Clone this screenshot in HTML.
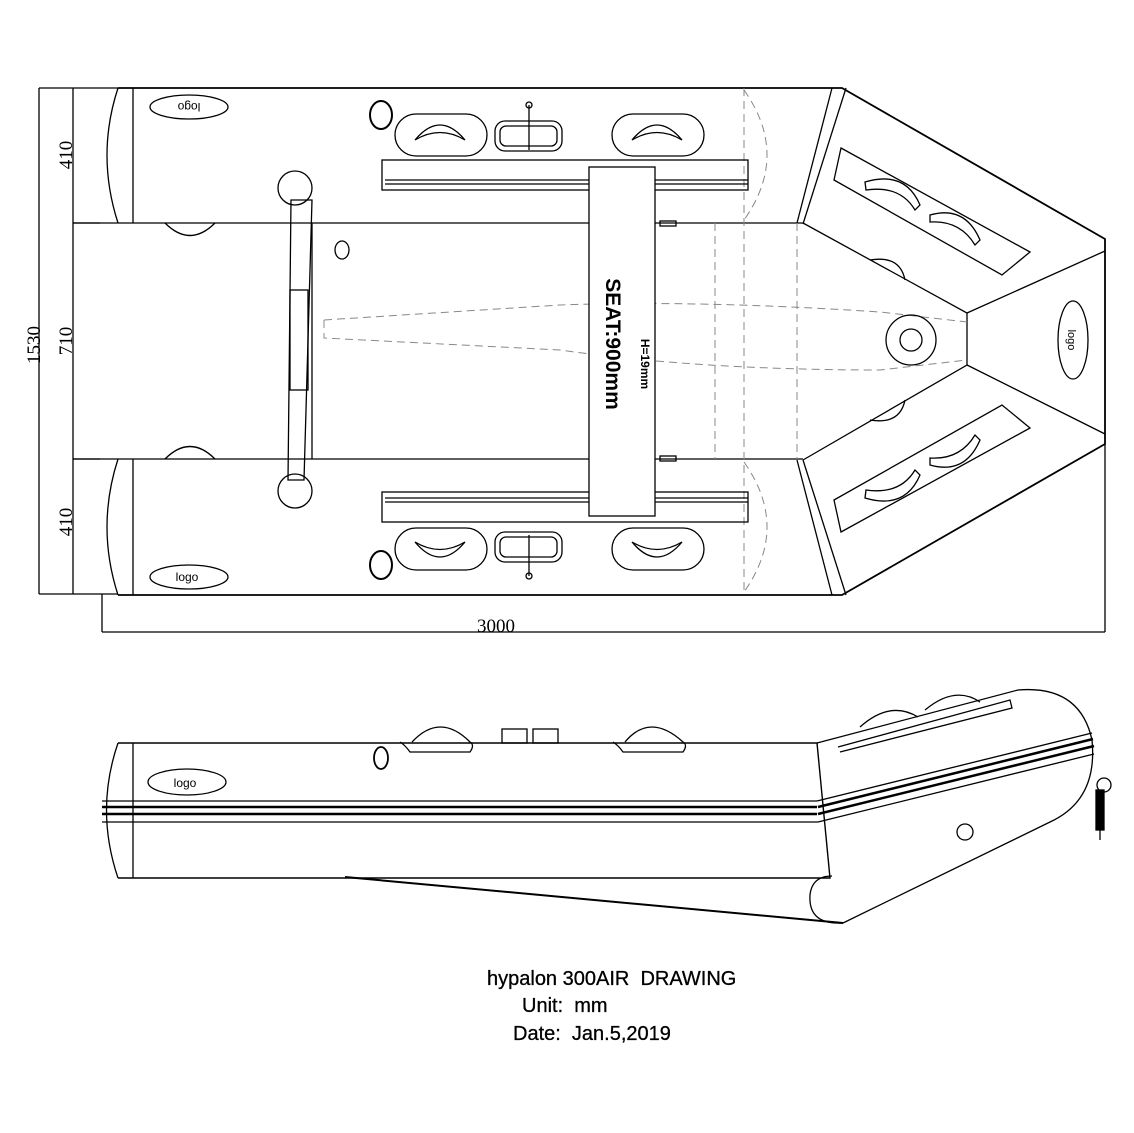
<!DOCTYPE html>
<html><head><meta charset="utf-8"><style>
html,body{margin:0;padding:0;background:#fff;}
svg{display:block;}
text{font-family:"Liberation Sans",Arial,sans-serif;fill:#000;white-space:pre;}
</style></head><body>
<svg width="1134" height="1133" viewBox="0 0 1134 1133" xmlns="http://www.w3.org/2000/svg" fill="none" stroke="#000" stroke-width="1.3">
<rect width="1134" height="1133" fill="#fff" stroke="none"/>
<line x1="39" y1="88" x2="39" y2="594"/>
<line x1="39" y1="88" x2="118" y2="88"/>
<line x1="39" y1="594" x2="118" y2="594"/>
<line x1="73" y1="88" x2="73" y2="594"/>
<line x1="73" y1="223" x2="100" y2="223"/>
<line x1="73" y1="459" x2="100" y2="459"/>
<line x1="102" y1="594" x2="102" y2="632"/>
<line x1="102" y1="632" x2="1105" y2="632"/>
<line x1="1105" y1="444" x2="1105" y2="632"/>
<g stroke="none" font-size="19">
<text transform="translate(72,155) rotate(-90)" text-anchor="middle" style="font-family:'Liberation Serif',serif">410</text>
<text transform="translate(72,341) rotate(-90)" text-anchor="middle" style="font-family:'Liberation Serif',serif">710</text>
<text transform="translate(72,522) rotate(-90)" text-anchor="middle" style="font-family:'Liberation Serif',serif">410</text>
<text transform="translate(40,345) rotate(-90)" text-anchor="middle" style="font-family:'Liberation Serif',serif">1530</text>
<text x="496" y="632" text-anchor="middle" style="font-family:'Liberation Serif',serif">3000</text>
</g>
<path d="M118 88 L842 88 L1105 239 L1105 444 L842 595 L118 595" stroke-width="1.8"/>
<path d="M118 88 Q96 155 118 223"/>
<path d="M118 459 Q96 527 118 595"/>
<line x1="133" y1="88" x2="133" y2="223"/>
<line x1="133" y1="459" x2="133" y2="595"/>
<line x1="73" y1="223" x2="803" y2="223"/>
<line x1="73" y1="459" x2="803" y2="459"/>
<line x1="312" y1="223" x2="312" y2="459"/>
<ellipse cx="342" cy="250" rx="7" ry="9"/>
<path d="M803 223 L967 313 L967 365 L803 460"/>
<line x1="967" y1="313" x2="1105" y2="251"/>
<line x1="967" y1="365" x2="1105" y2="434"/>
<line x1="832" y1="88" x2="797" y2="223"/>
<line x1="846" y1="88" x2="803" y2="224"/>
<line x1="797" y1="460" x2="832" y2="595"/>
<line x1="803" y1="460" x2="846" y2="595"/>
<g stroke="#888" stroke-dasharray="8,5" stroke-width="1">
<line x1="744" y1="88" x2="744" y2="595"/>
<line x1="715" y1="223" x2="715" y2="459"/>
<line x1="797" y1="223" x2="797" y2="459"/>
<path d="M744 90 Q790 155 744 220"/>
<path d="M744 462 Q790 527 744 592"/>
<path d="M324 320 L324 338 L560 350 Q700 370 880 370 L967 360"/>
<path d="M324 320 L560 305 Q700 300 880 312 L967 322"/>
</g>
<circle cx="911" cy="340" r="25"/>
<circle cx="911" cy="340" r="11"/>
<ellipse cx="1073" cy="340" rx="15" ry="39"/>
<text transform="translate(1068,340) rotate(90)" text-anchor="middle" font-size="11" stroke="none">logo</text>
<path d="M841 148 L1030 252 L1002 275 L834 180 Z"/>
<path d="M841 532 L1030 428 L1002 405 L834 500 Z"/>
<path d="M865 182 Q905 170 920 205 L915 210 Q900 185 866 190 Z"/>
<path d="M930 215 Q965 205 980 240 L975 245 Q960 220 930 222 Z"/>
<path d="M865 498 Q905 510 920 475 L915 470 Q900 495 866 490 Z"/>
<path d="M930 465 Q965 475 980 440 L975 435 Q960 460 930 458 Z"/>
<path d="M870 260 Q900 255 905 280"/>
<path d="M870 420 Q900 425 905 400"/>
<ellipse cx="189" cy="107" rx="39" ry="12"/>
<text transform="translate(189,103) rotate(180)" text-anchor="middle" font-size="12" stroke="none">logo</text>
<ellipse cx="189" cy="577" rx="39" ry="12"/>
<text x="187" y="581" text-anchor="middle" font-size="12" stroke="none">logo</text>
<path d="M165 223 Q190 248 215 223"/>
<path d="M165 459 Q190 434 215 459"/>
<path d="M291 200 L288 480 L304 480 L312 200 Z"/>
<circle cx="295" cy="188" r="17"/>
<circle cx="295" cy="491" r="17"/>
<rect x="290" y="290" width="18" height="100"/>
<rect x="382" y="160" width="366" height="30"/>
<line x1="385" y1="180" x2="748" y2="180"/>
<line x1="385" y1="184" x2="748" y2="184"/>
<rect x="382" y="492" width="366" height="30"/>
<line x1="385" y1="498" x2="748" y2="498"/>
<line x1="385" y1="502" x2="748" y2="502"/>
<rect x="589" y="167" width="66" height="349" fill="#fff"/>
<rect x="660" y="221" width="16" height="5"/>
<rect x="660" y="456" width="16" height="5"/>
<g stroke="none" font-weight="bold">
<text transform="translate(606,344) rotate(90)" text-anchor="middle" font-size="21">SEAT:900mm</text>
<text transform="translate(641,364) rotate(90)" text-anchor="middle" font-size="12">H=19mm</text>
</g>
<rect x="395" y="114" width="92" height="42" rx="21"/>
<path d="M415 140 Q440 110 465 140 Q440 125 415 140 Z"/>
<rect x="612" y="114" width="92" height="42" rx="21"/>
<path d="M632 140 Q657 110 682 140 Q657 125 632 140 Z"/>
<rect x="395" y="528" width="92" height="42" rx="21"/>
<path d="M415 542 Q440 572 465 542 Q440 557 415 542 Z"/>
<rect x="612" y="528" width="92" height="42" rx="21"/>
<path d="M632 542 Q657 572 682 542 Q657 557 632 542 Z"/>
<rect x="495" y="121" width="67" height="30" rx="10"/>
<rect x="500" y="126" width="57" height="20" rx="6"/>
<line x1="529" y1="105" x2="529" y2="150"/>
<circle cx="529" cy="105" r="3"/>
<rect x="495" y="532" width="67" height="30" rx="10"/>
<rect x="500" y="537" width="57" height="20" rx="6"/>
<line x1="529" y1="535" x2="529" y2="576"/>
<circle cx="529" cy="576" r="3"/>
<ellipse cx="381" cy="115" rx="11" ry="14" stroke-width="2"/>
<ellipse cx="381" cy="565" rx="11" ry="14" stroke-width="2"/>
<path d="M118 743 L817 743 L830 878 L118 878" stroke-width="1.4"/>
<path d="M118 743 Q95 810 118 878"/>
<line x1="133" y1="743" x2="133" y2="878"/>
<line x1="102" y1="801" x2="817" y2="801"/>
<line x1="102" y1="807" x2="817" y2="807" stroke-width="2.5"/>
<line x1="102" y1="814" x2="817" y2="814" stroke-width="2.5"/>
<line x1="102" y1="822" x2="818" y2="822"/>
<path d="M817 743 L1018 690 Q1080 685 1092 740 Q1098 800 1050 822 L843 923"/>
<path d="M345 877 L843 923" stroke-width="2"/>
<path d="M843 923 Q808 925 810 895 Q812 876 832 876"/>
<line x1="817" y1="801" x2="1092" y2="733"/>
<line x1="818" y1="807" x2="1093" y2="739" stroke-width="2.5"/>
<line x1="818" y1="814" x2="1094" y2="746" stroke-width="2.5"/>
<line x1="818" y1="822" x2="1094" y2="754"/>
<path d="M838 747 L1010 700 L1012 708 L840 752"/>
<path d="M860 727 Q890 700 918 717"/>
<path d="M925 710 Q955 685 980 702"/>
<path d="M400 742 Q405 745 410 752 L470 752 Q475 745 470 742 Q440 712 412 742"/>
<path d="M613 742 Q618 745 623 752 L683 752 Q688 745 683 742 Q650 712 625 742"/>
<rect x="502" y="729" width="25" height="14"/>
<rect x="533" y="729" width="25" height="14"/>
<ellipse cx="381" cy="758" rx="7" ry="11" stroke-width="1.8"/>
<ellipse cx="187" cy="782" rx="39" ry="13"/>
<text x="185" y="787" text-anchor="middle" font-size="12" stroke="none">logo</text>
<circle cx="965" cy="832" r="8"/>
<circle cx="1104" cy="785" r="7"/>
<rect x="1096" y="790" width="8" height="40" fill="#000"/>
<line x1="1100" y1="830" x2="1100" y2="840"/>
<g stroke="#000" stroke-width="0.3" font-size="20">
<text x="487" y="985">hypalon 300AIR  DRAWING</text>
<text x="522" y="1012">Unit:  mm</text>
<text x="513" y="1040">Date:  Jan.5,2019</text>
</g>
</svg>
</body></html>
